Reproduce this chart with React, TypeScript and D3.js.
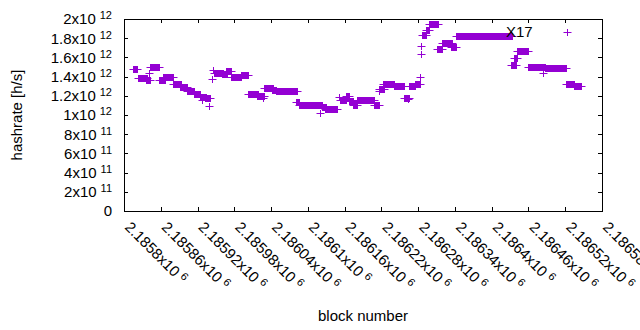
import * as d3 from 'd3';

// runs of consecutive blocks with the same hashrate: [first block, last block, hashrate h/s]
const runs: [number, number, number][] = [
  [2185815, 2185821, 1.474e12],
  [2185823, 2185838, 1.39e12],
  [2185836, 2185842, 1.36e12],
  [2185841, 2185841, 1.44e12],
  [2185842, 2185857, 1.495e12],
  [2185857, 2185867, 1.36e12],
  [2185864, 2185880, 1.396e12],
  [2185880, 2185893, 1.32e12],
  [2185891, 2185903, 1.289e12],
  [2185903, 2185914, 1.253e12],
  [2185914, 2185924, 1.222e12],
  [2185924, 2185934, 1.188e12],
  [2185932, 2185940, 1.174e12],
  [2185928, 2185928, 1.156e12],
  [2185939, 2185939, 1.094e12],
  [2185943, 2185943, 1.372e12],
  [2185945, 2185945, 1.469e12],
  [2185947, 2185962, 1.441e12],
  [2185960, 2185968, 1.43e12],
  [2185966, 2185975, 1.458e12],
  [2185975, 2185991, 1.393e12],
  [2185991, 2186002, 1.414e12],
  [2186002, 2186019, 1.214e12],
  [2186017, 2186028, 1.198e12],
  [2186027, 2186027, 1.172e12],
  [2186028, 2186043, 1.284e12],
  [2186042, 2186048, 1.26e12],
  [2186048, 2186059, 1.25e12],
  [2186059, 2186082, 1.247e12],
  [2186081, 2186086, 1.135e12],
  [2186086, 2186099, 1.104e12],
  [2186099, 2186123, 1.099e12],
  [2186123, 2186130, 1.083e12],
  [2186128, 2186148, 1.0625e12],
  [2186120, 2186120, 1.024e12],
  [2186151, 2186151, 1.1875e12],
  [2186152, 2186162, 1.156e12],
  [2186162, 2186167, 1.198e12],
  [2186167, 2186174, 1.146e12],
  [2186174, 2186180, 1.104e12],
  [2186180, 2186208, 1.153e12],
  [2186208, 2186216, 1.101e12],
  [2186216, 2186216, 1.25e12],
  [2186216, 2186224, 1.274e12],
  [2186223, 2186241, 1.328e12],
  [2186241, 2186257, 1.302e12],
  [2186257, 2186265, 1.182e12],
  [2186263, 2186263, 1.167e12],
  [2186265, 2186275, 1.307e12],
  [2186275, 2186283, 1.323e12],
  [2186283, 2186283, 1.396e12],
  [2186285, 2186285, 1.635e12],
  [2186285, 2186285, 1.716e12],
  [2186286, 2186293, 1.83e12],
  [2186293, 2186298, 1.882e12],
  [2186298, 2186313, 1.945e12],
  [2186311, 2186319, 1.684e12],
  [2186319, 2186335, 1.747e12],
  [2186334, 2186342, 1.711e12],
  [2186342, 2186433, 1.82e12],
  [2186432, 2186439, 1.516e12],
  [2186437, 2186441, 1.594e12],
  [2186441, 2186459, 1.664e12],
  [2186459, 2186487, 1.505e12],
  [2186487, 2186521, 1.49e12],
  [2186484, 2186484, 1.4375e12],
  [2186523, 2186523, 1.86e12],
  [2186521, 2186534, 1.326e12],
  [2186534, 2186546, 1.302e12],
];

const xTickValues = [
  2185800, 2185860, 2185920, 2185980, 2186040, 2186100, 2186160,
  2186220, 2186280, 2186340, 2186400, 2186460, 2186520, 2186580,
];
const xTickLabels = [
  '2.1858', '2.18586', '2.18592', '2.18598', '2.18604', '2.1861', '2.18616',
  '2.18622', '2.18628', '2.18634', '2.1864', '2.18646', '2.18652', '2.18658',
];
const yTickValues = [0, 2e11, 4e11, 6e11, 8e11, 1e12, 1.2e12, 1.4e12, 1.6e12, 1.8e12, 2e12];
const yTickMantissa = ['0', '2', '4', '6', '8', '1', '1.2', '1.4', '1.6', '1.8', '2'];
const yTickExponent = ['', '11', '11', '11', '11', '12', '12', '12', '12', '12', '12'];

const width = 640;
const height = 330;
const margin = { top: 19, right: 38, bottom: 119, left: 124 };
const color = '#9400d3';
const font = '"Liberation Sans", Arial, sans-serif';
const fontSize = 15;
const ps = 3.5; // half size of the '+' point

const x = d3.scaleLinear()
  .domain([2185800, 2186580])
  .range([margin.left, width - margin.right]);
const y = d3.scaleLinear()
  .domain([0, 2e12])
  .range([height - margin.bottom, margin.top]);

export default function App() {
  const [x0, x1] = x.range();
  const [y0, y1] = y.range();
  return (
    <svg width={width} height={height} style={{ position: 'absolute', left: 0, top: 0 }}
      fontFamily={font} fontSize={fontSize}>
      <rect width={width} height={height} fill="#fff" />

      {/* points */}
      <g fill={color} stroke={color}>
        {runs.map(([b0, b1, h], i) => {
          const xa = Math.round(x(b0));
          const xb = Math.round(x(b1));
          const yc = Math.round(y(h)) + 0.5;
          return (
            <g key={i}>
              <path d={`M${xa - ps},${yc}H${xb + ps + 1}`} fill="none" strokeWidth={1} />
              <rect x={xa} y={yc - ps} width={xb - xa + 1} height={ps * 2} stroke="none" />
            </g>
          );
        })}
      </g>

      {/* ticks */}
      <g stroke="#000" strokeWidth={1}>
        {yTickValues.map((v, i) => {
          const yy = Math.round(y(v)) + 0.5;
          return (
            <g key={i}>
              <line x1={x0} x2={x0 + 4} y1={yy} y2={yy} />
              <line x1={x1} x2={x1 - 4} y1={yy} y2={yy} />
            </g>
          );
        })}
        {xTickValues.map((v, i) => {
          const xx = Math.round(x(v)) + 0.5;
          return (
            <g key={i}>
              <line x1={xx} x2={xx} y1={y0} y2={y0 - 4} />
              <line x1={xx} x2={xx} y1={y1} y2={y1 + 4} />
            </g>
          );
        })}
        <rect x={x0 + 0.5} y={y1 + 0.5} width={x1 - x0} height={y0 - y1} fill="none" />
      </g>

      {/* y tick labels */}
      <g textAnchor="end" fill="#000">
        {yTickValues.map((v, i) => (
          <text key={i} x={112} y={y(v)} dy="0.36em">
            {yTickMantissa[i]}
            {yTickExponent[i] && <tspan>x10</tspan>}
            {yTickExponent[i] && (
              <tspan dx={4} dy="-0.45em" fontSize={11}>{yTickExponent[i]}</tspan>
            )}
          </text>
        ))}
      </g>

      {/* x tick labels */}
      <g fill="#000">
        {xTickValues.map((v, i) => (
          <text key={i} transform={`translate(${x(v)},${y0 + 17}) rotate(45)`}>
            {xTickLabels[i]}x10
            <tspan dx={4} dy="-0.45em" fontSize={11}>6</tspan>
          </text>
        ))}
      </g>

      <text x={506} y={37} fill="#000">X17</text>

      <text x={363} y={321} textAnchor="middle">block number</text>
      <text transform={`translate(22,115) rotate(-90)`} textAnchor="middle">hashrate [h/s]</text>
    </svg>
  );
}
